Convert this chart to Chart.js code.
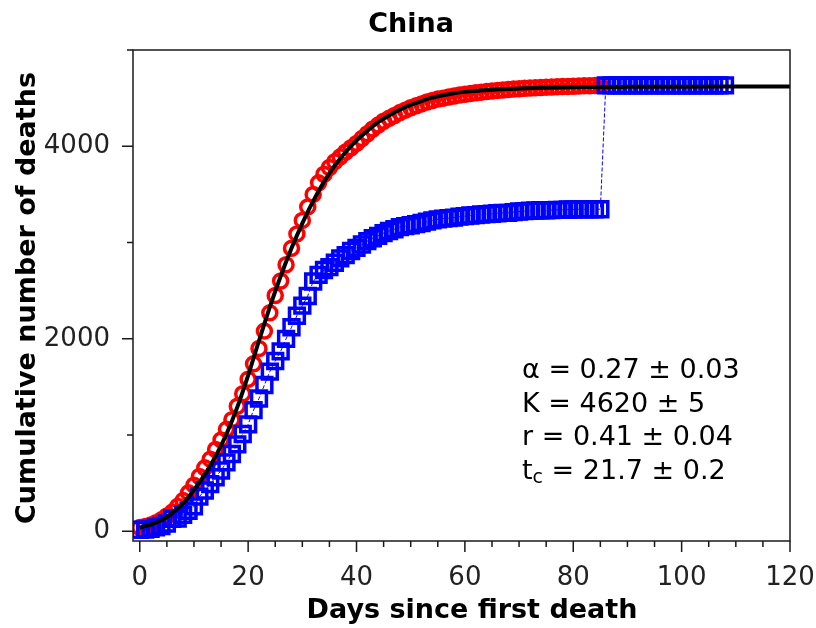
<!DOCTYPE html>
<html>
<head>
<meta charset="utf-8">
<script src="https://cdn.jsdelivr.net/npm/chart.js@4.4.1/dist/chart.umd.min.js"></script>
<style>
  html, body { margin: 0; padding: 0; background: #fff; }
</style>
</head>
<body>
<canvas id="c" width="816" height="628"></canvas>
<script>
// cumulative deaths, day index = days since first death
const redDeaths = [40, 50, 65, 90, 120, 160, 200, 260, 320, 400,
  480, 570, 660, 750, 850, 950, 1060, 1160, 1300, 1430,
  1580, 1740, 1900, 2080, 2270, 2450, 2600, 2770, 2940, 3090,
  3230, 3370, 3500, 3620, 3710, 3780, 3840, 3890, 3940, 3985,
  4030, 4080, 4130, 4180, 4220, 4260, 4290, 4320, 4350, 4375,
  4400, 4420, 4440, 4460, 4475, 4490, 4500, 4512, 4522, 4532,
  4540, 4548, 4555, 4562, 4568, 4574, 4580, 4585, 4590, 4594,
  4598, 4602, 4605, 4608, 4611, 4614, 4616, 4618, 4620, 4622,
  4624, 4626, 4628, 4629, 4630, 4632];

const blueDeaths = [17, 18, 26, 42, 56, 82, 131, 133, 171, 213,
  259, 361, 425, 490, 562, 632, 717, 804, 904, 1011,
  1111, 1260, 1380, 1520, 1660, 1770, 1870, 2000, 2120, 2240,
  2345, 2445, 2595, 2665, 2715, 2745, 2790, 2835, 2870, 2912,
  2945, 2980, 3015, 3045, 3070, 3098, 3120, 3138, 3160, 3170,
  3180, 3192, 3203, 3217, 3230, 3241, 3249, 3253, 3259, 3270,
  3274, 3281, 3285, 3291, 3296, 3299, 3304, 3308, 3309, 3316,
  3322, 3326, 3330, 3333, 3335, 3335, 3337, 3339, 3340, 3343,
  3343, 3345, 3345, 3345, 3346, 3346,
  4632, 4632, 4632, 4632, 4632, 4632, 4632, 4632, 4632, 4632,
  4632, 4632, 4632, 4632, 4632, 4632, 4632, 4632, 4632, 4632,
  4632, 4632, 4632];

const fitDays = [0, 2, 4, 6, 8, 10, 12, 14, 16, 18, 20, 22, 24, 26, 28, 30, 32, 34, 36, 38,
  40, 42, 44, 46, 48, 50, 52, 54, 56, 58, 60, 65, 70, 75, 80, 90, 100, 110, 120];
const fitDeaths = [40, 70, 115, 190, 290, 430, 590, 780, 1010, 1290, 1620, 1980, 2330, 2650, 2940, 3200, 3430, 3630, 3800, 3940,
  4060, 4160, 4250, 4320, 4380, 4430, 4470, 4505, 4530, 4550, 4565, 4588, 4600, 4608, 4613, 4617, 4619, 4620, 4620];

const xTicks = [0, 20, 40, 60, 80, 100, 120];
const xMinor = [5, 10, 15, 25, 30, 35, 45, 50, 55, 65, 70, 75, 85, 90, 95, 105, 110, 115];
const yTicks = [0, 2000, 4000];
const yMinor = [1000, 3000, 5000];

const fitText = ['α = 0.27 ± 0.03', 'K = 4620 ± 5', 'r = 0.41 ± 0.04', ' = 21.7 ± 0.2'];

const toPts = arr => arr.map((v, i) => ({ x: i, y: v }));

const frame = {
  id: 'frame',
  afterDraw(chart) {
    const ctx = chart.ctx;
    const a = chart.chartArea;
    const xs = chart.scales.x, ys = chart.scales.y;
    ctx.save();
    ctx.strokeStyle = '#1a1a1a';
    ctx.lineWidth = 1.5;
    ctx.strokeRect(a.left, a.top, a.right - a.left, a.bottom - a.top);
    ctx.beginPath();
    xTicks.forEach(v => { const p = xs.getPixelForValue(v); ctx.moveTo(p, a.bottom); ctx.lineTo(p, a.bottom + 11); });
    xMinor.forEach(v => { const p = xs.getPixelForValue(v); ctx.moveTo(p, a.bottom); ctx.lineTo(p, a.bottom + 6); });
    yTicks.forEach(v => { const p = ys.getPixelForValue(v); ctx.moveTo(a.left, p); ctx.lineTo(a.left - 11, p); });
    yMinor.forEach(v => { const p = ys.getPixelForValue(v); ctx.moveTo(a.left, p); ctx.lineTo(a.left - 6, p); });
    ctx.stroke();

    ctx.fillStyle = '#000';
    ctx.textBaseline = 'middle';
    ctx.textAlign = 'center';
    ctx.font = 'bold 27px "DejaVu Sans"';
    ctx.fillText('China', 411, 25);
    ctx.fillText('Days since first death', 472, 611);
    ctx.save();
    ctx.translate(28, 298);
    ctx.rotate(-Math.PI / 2);
    ctx.fillText('Cumulative number of deaths', 0, 0);
    ctx.restore();

    ctx.textAlign = 'left';
    ctx.font = '27px "DejaVu Sans"';
    const lineY = [371, 405, 438, 472];
    for (let i = 0; i < 3; i++) ctx.fillText(fitText[i], 522, lineY[i]);
    ctx.fillText('t', 522, lineY[3]);
    const tw = ctx.measureText('t').width;
    ctx.font = '19px "DejaVu Sans"';
    ctx.fillText('c', 522 + tw, lineY[3] + 6);
    const cw = ctx.measureText('c').width;
    ctx.font = '27px "DejaVu Sans"';
    ctx.fillText(fitText[3], 522 + tw + cw, lineY[3]);
    ctx.restore();
  }
};

new Chart(document.getElementById('c').getContext('2d'), {
  type: 'scatter',
  data: {
    datasets: [
      {
        label: 'fit',
        data: fitDays.map((d, i) => ({ x: d, y: fitDeaths[i] })),
        showLine: true,
        borderColor: '#000',
        borderWidth: 4,
        pointRadius: 0,
        cubicInterpolationMode: 'monotone',
        clip: 0
      },
      {
        label: 'reported',
        data: toPts(blueDeaths),
        showLine: true,
        borderColor: '#0000ff',
        borderWidth: 1,
        borderDash: [4, 2],
        pointStyle: 'rect',
        pointRadius: 10.5,
        pointBorderWidth: 3.5,
        pointBackgroundColor: 'rgba(0,0,0,0)',
        pointBorderColor: '#0000ff',
        clip: 0
      },
      {
        label: 'corrected',
        data: toPts(redDeaths),
        showLine: false,
        borderColor: '#ff0000',
        pointStyle: 'circle',
        pointRadius: 7,
        pointBorderWidth: 3.5,
        pointBackgroundColor: 'rgba(0,0,0,0)',
        pointBorderColor: '#ff0000',
        clip: 0
      }
    ]
  },
  options: {
    responsive: false,
    animation: false,
    devicePixelRatio: 1,
    layout: { padding: { top: 50, right: 26, bottom: 0, left: 0 } },
    plugins: { legend: { display: false }, tooltip: { enabled: false } },
    elements: { point: { hoverRadius: 0 } },
    scales: {
      x: {
        type: 'linear',
        min: -1.25,
        max: 120,
        grid: { display: false },
        border: { display: false },
        afterBuildTicks: s => { s.ticks = xTicks.map(v => ({ value: v })); },
        afterFit: s => { s.height = 87; s.paddingLeft = 0; s.paddingRight = 0; },
        ticks: {
          autoSkip: false,
          maxRotation: 0,
          padding: 14,
          color: '#222',
          font: { family: 'DejaVu Sans', size: 26 },
          callback: v => String(v)
        }
      },
      y: {
        type: 'linear',
        min: -100,
        max: 5000,
        grid: { display: false },
        border: { display: false },
        afterBuildTicks: s => { s.ticks = yTicks.map(v => ({ value: v })); },
        afterFit: s => { s.width = 133; s.paddingTop = 0; s.paddingBottom = 0; },
        ticks: {
          autoSkip: false,
          padding: 15,
          color: '#222',
          font: { family: 'DejaVu Sans', size: 26 },
          callback: v => String(v)
        }
      }
    }
  },
  plugins: [frame]
});
</script>
</body>
</html>
